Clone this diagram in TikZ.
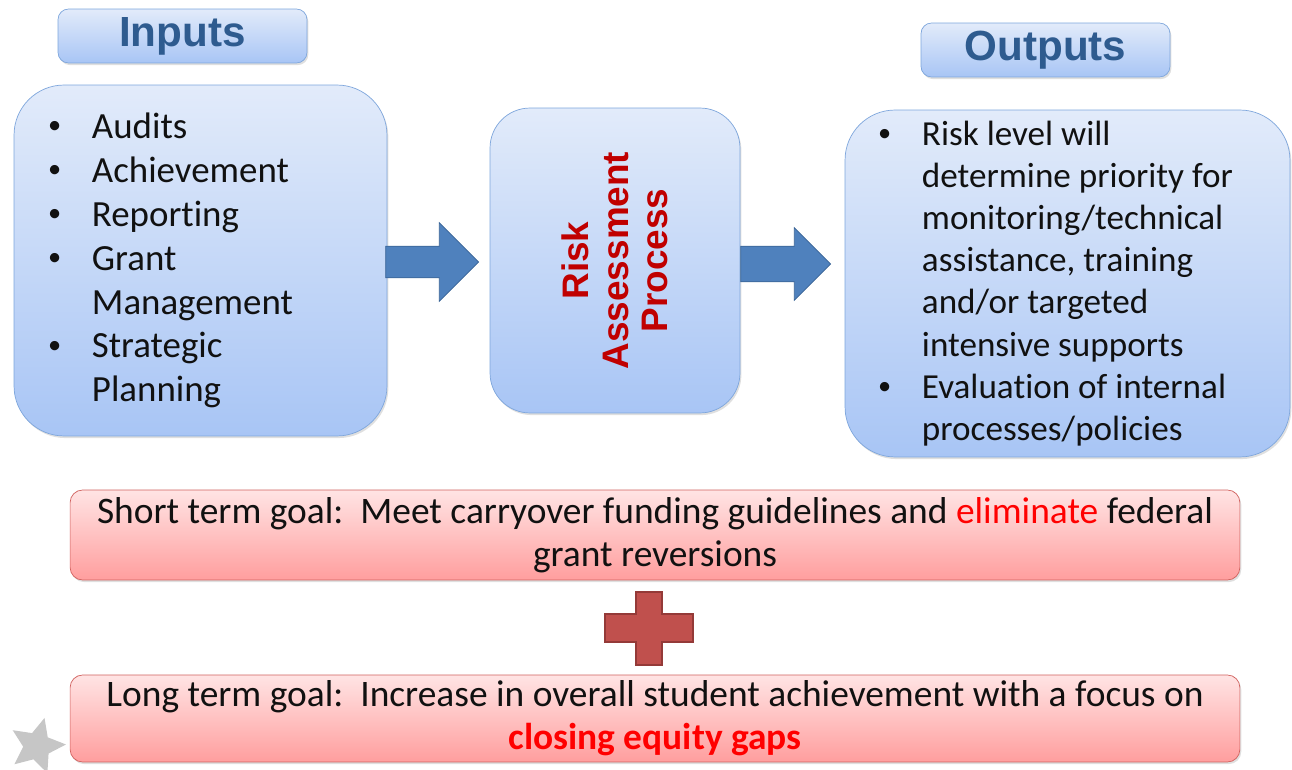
\documentclass[tikz,border=0pt]{standalone}
\usepackage{fontspec}
\setmainfont{Carlito}[Ligatures=NoCommon]
\newfontfamily\headfont{Liberation Sans}
\usepackage{xcolor}
\usetikzlibrary{shapes.geometric, shapes.arrows, shadows, positioning, calc}

\definecolor{boxblue}{HTML}{A8C5F5}
\definecolor{boxbluetop}{HTML}{E2EBFA}
\definecolor{edgeblue}{HTML}{7EA6DC}
\definecolor{headtext}{HTML}{2E5B8F}
\definecolor{arrowblue}{HTML}{4F81BD}
\definecolor{arrowedge}{HTML}{3A6496}
\definecolor{goalred}{HTML}{FF9E9E}
\definecolor{goalredtop}{HTML}{FFE4E4}
\definecolor{edgered}{HTML}{D0605D}
\definecolor{plusred}{HTML}{C0504D}
\definecolor{plusedge}{HTML}{943A38}
\definecolor{riskred}{HTML}{C00000}
\definecolor{bodytext}{HTML}{111111}

\newcommand{\bul}{\makebox[25pt][l]{\raisebox{0.12em}{\fontsize{15}{15}\selectfont\textbullet}}}
\newcommand{\ind}{\hspace*{25pt}}

\begin{document}
\begin{tikzpicture}[
    x=0.02cm, y=-0.02cm,
    shade/.style = {drop shadow={shadow xshift=0.8pt, shadow yshift=-1.2pt, opacity=0.25}},
    header/.style = {rectangle, rounded corners=6pt, draw=edgeblue, top color=boxbluetop, bottom color=boxblue, minimum width=4.98cm, minimum height=1.08cm, font=\headfont\bfseries\fontsize{24}{26}\selectfont, text=headtext, shade},
    bluebox/.style = {rectangle, rounded corners=1cm, draw=edgeblue, top color=boxbluetop, bottom color=boxblue, font=\fontsize{21}{25}\selectfont, text=bodytext, align=flush left, inner ysep=0pt, shade},
    goalbox/.style = {rectangle, rounded corners=0.25cm, draw=edgered, top color=goalredtop, bottom color=goalred, minimum width=23.4cm, text width=23cm, align=flush center, font=\fontsize{21.3}{24.5}\selectfont, text=bodytext, inner sep=0pt, shade},
    fatarrow/.style = {single arrow, draw=arrowedge, fill=arrowblue, inner xsep=0pt, single arrow head indent=0pt},
    plussign/.style = {draw=plusedge, fill=plusred, line width=1pt}
]
    \useasboundingbox (0,0) rectangle (1292,770);

    % headers
    \node[header] (inhead) at (182.5,36) {Inputs};
    \node[header] (outhead) at (1045.5,50) {Outputs};

    % main boxes
    \node[bluebox, minimum width=7.46cm, minimum height=7.02cm, text width=6.1cm, inner xsep=0.68cm] (inbox) at (200.5,260.5)
        {\bul Audits\\ \bul Achievement\\ \bul Reporting\\ \bul Grant\\ \ind Management\\ \bul Strategic\\ \ind Planning};
    \node[bluebox, rounded corners=0.8cm, minimum width=5cm, minimum height=6.1cm] (procbox) at (615,260.5) {};
    \node[rotate=90, align=center, font=\headfont\bfseries\fontsize{21}{22.5}\selectfont, text=riskred] (risktext) at (procbox.center) {Risk\\Assessment\\Process};
    \node[bluebox, minimum width=8.9cm, minimum height=6.94cm, text width=7.58cm, inner xsep=0.66cm, font=\fontsize{20}{24}\selectfont] (outbox) at (1067.5,283.5)
        {\bul Risk level will\\ \ind determine priority for\\ \ind monitoring/technical\\ \ind assistance, training\\ \ind and/or targeted\\ \ind intensive supports\\ \bul Evaluation of internal\\ \ind processes/policies};

    % arrows between boxes
    \node[fatarrow, inner ysep=0.31cm, minimum height=1.86cm, minimum width=1.56cm, single arrow head extend=0.47cm, anchor=west] (arrowin) at ($(inbox.east)+(-2,1.5)$) {};
    \node[fatarrow, inner ysep=0.35cm, minimum height=1.8cm, minimum width=1.44cm, single arrow head extend=0.37cm, anchor=west] (arrowout) at ($(procbox.east)+(0,3.5)$) {};

    % goals
    \node[goalbox, minimum height=1.8cm] (shortgoal) at (655,535)
        {Short term goal:\ \ Meet carryover funding guidelines and \textcolor{red}{eliminate} federal\\grant reversions};
    \node[goalbox, minimum height=1.74cm] (longgoal) at (655,718.5)
        {Long term goal:\ \ Increase in overall student achievement with a focus on\\\textcolor{red}{\textbf{closing equity gaps}}};

    \draw[plussign] (636,592) -- (662,592) -- (662,614) -- (693,614) -- (693,642) -- (662,642)
        -- (662,665) -- (636,665) -- (636,642) -- (605,642) -- (605,614) -- (636,614) -- cycle;

    % logo star, cut by the page edge
    \begin{scope}
        \clip (0,0) rectangle (1292,770);
        \node[star, star points=5, star point ratio=2.1, rotate=-15, fill=gray!45, minimum size=1.16cm, inner sep=0pt] (logostar) at (37,746) {};
    \end{scope}
\end{tikzpicture}
\end{document}
